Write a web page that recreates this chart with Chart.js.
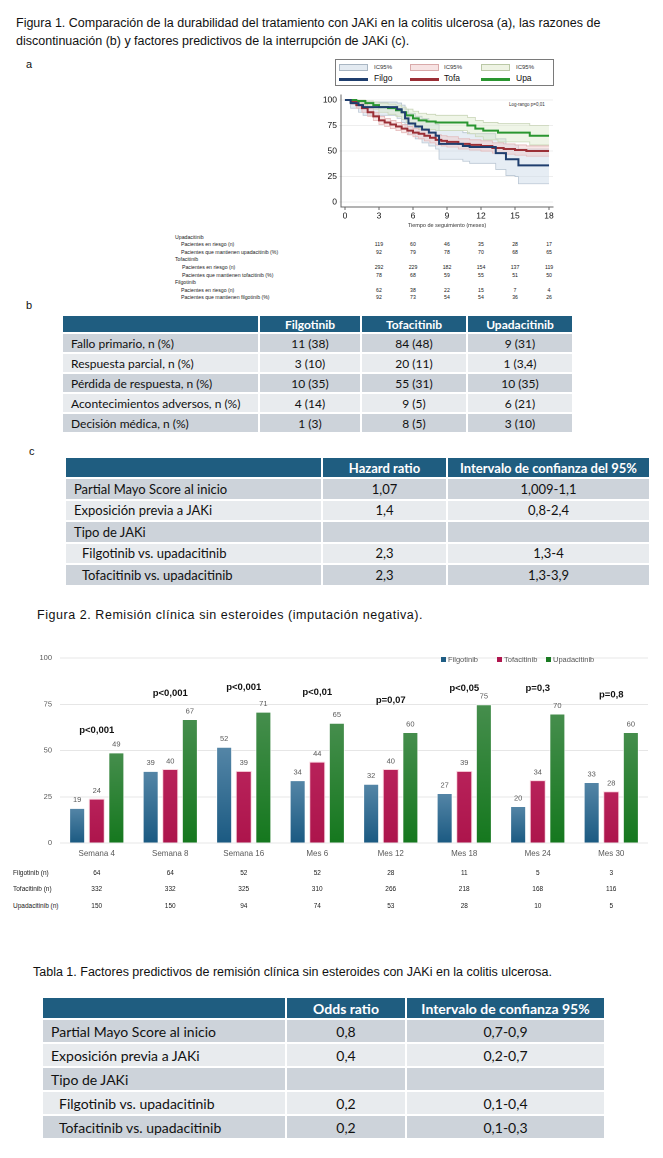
<!DOCTYPE html>
<html><head><meta charset="utf-8">
<script src="https://cdn.jsdelivr.net/npm/chart.js@4.4.1/dist/chart.umd.min.js"></script>
<style>
html,body{margin:0;padding:0;background:#fff;}
body{width:663px;height:1158px;position:relative;overflow:hidden;font-family:"Liberation Sans",Arial,sans-serif;color:#111;}
.abs{position:absolute;white-space:nowrap;}
.cap{font-size:12.5px;line-height:18px;}
.lbl{font-size:11px;}
table.t{position:absolute;border-collapse:separate;border-spacing:0;font-family:Lato,"Open Sans",sans-serif;color:#111;table-layout:fixed;}
table.t td,table.t th{border-right:2px solid #fff;border-bottom:2px solid #fff;padding:0 8px;white-space:nowrap;overflow:hidden;box-sizing:border-box;}
table.t td:last-child,table.t th:last-child{border-right:none;}
table.t th{background:#1f5d80;color:#fff;font-weight:bold;text-align:center;}
table.t td{text-align:center;}
table.t td:first-child{text-align:left;}
table.t td.ind{padding-left:16px;}
tr.d td{background:#cdd3da;}
tr.l td{background:#e8ebee;}
.leg{position:absolute;left:335px;top:59px;width:217px;height:25px;border:1px solid #7a7a7a;background:#fff;}
.sw{position:absolute;width:29px;height:7px;box-sizing:border-box;}
.ln{position:absolute;width:29px;height:2.5px;}
.lt{position:absolute;font-size:6px;color:#333;}
.lt2{position:absolute;font-size:8.5px;color:#111;}
.rk{position:absolute;font-size:5.2px;color:#222;white-space:nowrap;font-family:"Liberation Sans",Arial,sans-serif;}
.nrow{position:absolute;font-size:6.5px;color:#222;white-space:nowrap;}
.bleg{position:absolute;top:655px;font-size:7.5px;color:#595959;white-space:nowrap;}
.bleg i{display:inline-block;width:5px;height:5px;margin-right:2px;vertical-align:0px;}
</style>
</head>
<body>
<div class="abs cap" style="left:16px;top:14px;">Figura 1. Comparación de la durabilidad del tratamiento con JAKi en la colitis ulcerosa (a), las razones de</div>
<div class="abs cap" style="left:16px;top:32px;">discontinuación (b) y factores predictivos de la interrupción de JAKi (c).</div>
<div class="abs lbl" style="left:26px;top:58px;">a</div>
<div class="abs lbl" style="left:26px;top:299px;">b</div>
<div class="abs lbl" style="left:29px;top:445px;">c</div>

<div class="leg">
  <div class="sw" style="left:3px;top:4px;background:#e3eaf1;border:1px solid #a9b6c3;"></div>
  <div class="lt" style="left:38px;top:4px;">IC95%</div>
  <div class="sw" style="left:74px;top:4px;background:#f7e3e3;border:1px solid #d9aaaa;"></div>
  <div class="lt" style="left:108px;top:4px;">IC95%</div>
  <div class="sw" style="left:145px;top:4px;background:#eef3e3;border:1px solid #bac8a6;"></div>
  <div class="lt" style="left:180px;top:4px;">IC95%</div>
  <div class="ln" style="left:3px;top:18px;background:#1f3e6e;"></div>
  <div class="lt2" style="left:38px;top:13px;">Filgo</div>
  <div class="ln" style="left:74px;top:18px;background:#9b2f36;"></div>
  <div class="lt2" style="left:108px;top:13px;">Tofa</div>
  <div class="ln" style="left:145px;top:18px;background:#2a9630;"></div>
  <div class="lt2" style="left:180px;top:13px;">Upa</div>
</div>
<div class="abs" style="left:509px;top:102px;font-size:4.5px;color:#333;">Log-rango p=0,01</div>
<canvas id="km" width="242" height="144" style="position:absolute;left:318px;top:88px;"></canvas>
<div id="risk"></div>

<div id="tabB"></div>
<div id="tabC"></div>

<div class="abs cap" style="left:37px;top:606px;letter-spacing:0.55px;">Figura 2. Remisión clínica sin esteroides (imputación negativa).</div>
<canvas id="bars" width="663" height="225" style="position:absolute;left:0px;top:645px;"></canvas>
<div class="bleg" style="left:441px;"><i style="background:#1f5d84"></i>Filgotinib</div>
<div class="bleg" style="left:497px;"><i style="background:#b0164e"></i>Tofacitinib</div>
<div class="bleg" style="left:546px;"><i style="background:#1a7a22"></i>Upadacitinib</div>
<div id="ntab"></div>

<div class="abs cap" style="left:33px;top:963px;">Tabla 1. Factores predictivos de remisión clínica sin esteroides con JAKi en la colitis ulcerosa.</div>
<div id="tab1"></div>

<script>
// ---------- Figure 1a: Kaplan-Meier data ----------
const kmTicksX = [0, 3, 6, 9, 12, 15, 18];
const kmTicksY = [0, 25, 50, 75, 100];

const filgoT  = [0, 0.5, 1.2, 1.6, 4.6, 5.0, 5.3, 5.6, 6.2, 6.8, 7.4, 8.0, 8.3, 10.4, 11.0, 13.3, 14.2, 15.0, 15.3, 18];
const filgoS  = [100, 97, 95, 93, 91, 88, 82, 77, 74, 71, 68, 65, 57, 55, 54, 48, 42, 42, 36, 36];
const filgoLo = [100, 92, 88, 85, 82, 78, 72, 66, 62, 58, 55, 52, 42, 40, 38, 32, 26, 25, 18, 18];
const filgoHi = [100, 100, 99, 98, 97, 95, 91, 87, 84, 82, 79, 76, 70, 68, 67, 62, 57, 56, 52, 52];

const tofaT  = [0, 0.5, 1, 1.5, 2, 2.5, 3, 3.5, 4, 4.5, 5, 5.5, 6, 6.5, 7, 7.5, 8, 8.5, 9, 10, 11, 12, 13, 14, 15, 16, 17, 18];
const tofaS  = [100, 98, 95, 92, 88, 84, 80, 78, 76, 74, 72, 70, 68, 67, 65, 63, 61, 60, 59, 57, 56, 55, 53, 52, 51, 50, 50, 50];
const tofaLo = [100, 96, 92, 88, 84, 80, 76, 74, 72, 70, 68, 66, 64, 62, 60, 58, 56, 55, 54, 52, 51, 50, 48, 47, 46, 45, 45, 45];
const tofaHi = [100, 100, 98, 96, 92, 88, 84, 82, 80, 78, 76, 74, 72, 71, 70, 68, 66, 65, 64, 62, 61, 60, 58, 57, 56, 55, 55, 55];

const upaT  = [0, 1, 1.8, 2.5, 3, 3.8, 4.5, 5, 5.4, 6, 6.5, 7.2, 8, 10.8, 11.5, 12.2, 13.5, 16.3, 18];
const upaS  = [100, 99, 97, 95, 93, 92, 90, 88, 85, 82, 80, 79, 78, 75, 72, 70, 68, 65, 65];
const upaLo = [100, 97, 94, 91, 88, 86, 84, 81, 78, 75, 72, 71, 70, 67, 64, 61, 59, 56, 56];
const upaHi = [100, 100, 99, 98, 97, 96, 95, 93, 91, 89, 87, 86, 85, 83, 80, 78, 77, 75, 75];

// risk table (months 3..18)
const riskMonths = [3, 6, 9, 12, 15, 18];
const upaRisk = [119, 60, 46, 35, 28, 17];
const upaKeep = [92, 79, 78, 70, 68, 65];
const tofaRisk = [292, 229, 182, 154, 137, 119];
const tofaKeep = [78, 68, 59, 55, 51, 50];
const filgoRisk = [62, 38, 22, 15, 7, 4];
const filgoKeep = [92, 73, 54, 54, 36, 26];

// ---------- Figure 1b ----------
const reasonHeader = ["", "Filgotinib", "Tofacitinib", "Upadacitinib"];
const reasonLabels = ["Fallo primario, n (%)", "Respuesta parcial, n (%)", "Pérdida de respuesta, n (%)", "Acontecimientos adversos, n (%)", "Decisión médica, n (%)"];
const reasonFilgo = ["11 (38)", "3 (10)", "10 (35)", "4 (14)", "1 (3)"];
const reasonTofa  = ["84 (48)", "20 (11)", "55 (31)", "9 (5)", "8 (5)"];
const reasonUpa   = ["9 (31)", "1 (3,4)", "10 (35)", "6 (21)", "3 (10)"];

// ---------- Figure 1c ----------
const hrHeader = ["", "Hazard ratio", "Intervalo de confianza del 95%"];
const factorLabels = ["Partial Mayo Score al inicio", "Exposición previa a JAKi", "Tipo de JAKi", "Filgotinib vs. upadacitinib", "Tofacitinib vs. upadacitinib"];
const hrValues = ["1,07", "1,4", "", "2,3", "2,3"];
const hrCI = ["1,009-1,1", "0,8-2,4", "", "1,3-4", "1,3-3,9"];

// ---------- Figure 2 ----------
const periods = ["Semana 4", "Semana 8", "Semana 16", "Mes 6", "Mes 12", "Mes 18", "Mes 24", "Mes 30"];
const filgoRem = [19, 39, 52, 34, 32, 27, 20, 33];
const tofaRem  = [24, 40, 39, 44, 40, 39, 34, 28];
const upaRem   = [49, 67, 71, 65, 60, 75, 70, 60];
const pValues  = ["p<0,001", "p<0,001", "p<0,001", "p<0,01", "p=0,07", "p<0,05", "p=0,3", "p=0,8"];
const filgoN = [64, 64, 52, 52, 28, 11, 5, 3];
const tofaN  = [332, 332, 325, 310, 266, 218, 168, 116];
const upaN   = [150, 150, 94, 74, 53, 28, 10, 5];
const barTicksY = [0, 25, 50, 75, 100];

// ---------- Tabla 1 ----------
const orHeader = ["", "Odds ratio", "Intervalo de confianza 95%"];
const orValues = ["0,8", "0,4", "", "0,2", "0,2"];
const orCI = ["0,7-0,9", "0,2-0,7", "", "0,1-0,4", "0,1-0,3"];

// ================= tables =================
function makeTable(id, spec) {
  const t = document.createElement('table');
  t.className = 't';
  t.style.left = spec.left + 'px';
  t.style.top = spec.top + 'px';
  t.style.width = spec.widths.reduce((a, b) => a + b, 0) + 'px';
  t.style.fontSize = spec.font + 'px';
  const cg = document.createElement('colgroup');
  spec.widths.forEach(w => { const c = document.createElement('col'); c.style.width = w + 'px'; cg.appendChild(c); });
  t.appendChild(cg);
  const hr = document.createElement('tr');
  hr.style.height = spec.headH + 'px';
  spec.header.forEach(h => { const th = document.createElement('th'); th.textContent = h; th.style.fontSize = spec.hfont + 'px'; hr.appendChild(th); });
  t.appendChild(hr);
  spec.columns[0].forEach((_, r) => {
    const tr = document.createElement('tr');
    tr.className = r % 2 === 0 ? 'd' : 'l';
    tr.style.height = spec.rowH + 'px';
    spec.columns.forEach((col, c) => {
      const td = document.createElement('td');
      td.textContent = col[r];
      if (c === 0 && spec.indent && spec.indent.includes(r)) td.className = 'ind';
      tr.appendChild(td);
    });
    t.appendChild(tr);
  });
  document.getElementById(id).appendChild(t);
}
makeTable('tabB', {left: 63, top: 316, widths: [197, 102, 106, 104], headH: 18, rowH: 20, font: 12, hfont: 12,
  header: reasonHeader, columns: [reasonLabels, reasonFilgo, reasonTofa, reasonUpa]});
makeTable('tabC', {left: 66, top: 458, widths: [257, 125, 201], headH: 21, rowH: 21.5, font: 13, hfont: 13,
  header: hrHeader, columns: [factorLabels, hrValues, hrCI], indent: [3, 4]});
makeTable('tab1', {left: 43, top: 998, widths: [244, 120, 197], headH: 22, rowH: 24, font: 14, hfont: 14,
  header: orHeader, columns: [factorLabels, orValues, orCI], indent: [3, 4]});

// ================= KM chart =================
function pts(t, v) { return t.map((x, i) => ({x: x, y: v[i]})); }
const bandStyle = (col, border) => ({borderColor: border, borderWidth: 0.8, pointRadius: 0, stepped: true, backgroundColor: col});
const km = new Chart(document.getElementById('km'), {
  type: 'line',
  data: {
    datasets: [
      Object.assign({data: pts(filgoT, filgoLo), fill: false, order: 10}, bandStyle('rgba(0,0,0,0)', '#b7c3cf')),
      Object.assign({data: pts(filgoT, filgoHi), fill: '-1', order: 9}, bandStyle('rgba(200,215,230,0.45)', '#b7c3cf')),
      Object.assign({data: pts(tofaT, tofaLo), fill: false, order: 8}, bandStyle('rgba(0,0,0,0)', '#e2b7b7')),
      Object.assign({data: pts(tofaT, tofaHi), fill: '-1', order: 7}, bandStyle('rgba(240,200,200,0.45)', '#e2b7b7')),
      Object.assign({data: pts(upaT, upaLo), fill: false, order: 6}, bandStyle('rgba(0,0,0,0)', '#c9d5b8')),
      Object.assign({data: pts(upaT, upaHi), fill: '-1', order: 5}, bandStyle('rgba(215,230,195,0.4)', '#c9d5b8')),
      {data: pts(upaT, upaS), borderColor: '#2a9630', borderWidth: 2, pointRadius: 0, stepped: true, fill: false, order: 2},
      {data: pts(tofaT, tofaS), borderColor: '#9b2f36', borderWidth: 2, pointRadius: 0, stepped: true, fill: false, order: 1},
      {data: pts(filgoT, filgoS), borderColor: '#1f3e6e', borderWidth: 2, pointRadius: 0, stepped: true, fill: false, order: 0}
    ]
  },
  options: {
    responsive: false, animation: false, devicePixelRatio: 2,
    layout: {padding: {top: 5, right: 7, left: 0, bottom: 0}},
    plugins: {legend: {display: false}, tooltip: {enabled: false}},
    scales: {
      x: {type: 'linear', min: -0.35, max: 18.35,
        afterBuildTicks: s => { s.ticks = kmTicksX.map(v => ({value: v})); },
        afterFit: s => { s.height = 25; },
        grid: {drawOnChartArea: false, drawTicks: true, tickLength: 3, color: '#666'},
        border: {display: true, color: '#666', width: 1},
        ticks: {font: {size: 8.5, family: 'Liberation Sans'}, color: '#111', padding: 1, maxRotation: 0},
        title: {display: true, text: 'Tiempo de seguimiento (meses)', font: {size: 5.5, family: 'Liberation Sans'}, color: '#333', padding: {top: 0, bottom: 3}}
      },
      y: {type: 'linear', min: -4.8, max: 104.8,
        afterBuildTicks: s => { s.ticks = kmTicksY.map(v => ({value: v})); },
        afterFit: s => { s.width = 23; },
        grid: {drawOnChartArea: true, drawTicks: true, tickLength: 2, color: '#eeeeee'},
        border: {display: true, color: '#666', width: 1},
        ticks: {font: {size: 8.5, family: 'Liberation Sans'}, color: '#111', padding: 2}
      }
    }
  }
});

// risk table positioned from the KM x-scale
(function () {
  const box = document.getElementById('risk');
  const left0 = 318;
  const rowsY = [237, 244, 252, 259, 267, 275, 282, 290, 297];
  const labels = [
    ['Upadacitinib', 175, null],
    ['Pacientes en riesgo (n)', 181, upaRisk],
    ['Pacientes que mantienen upadacitinib (%)', 181, upaKeep],
    ['Tofacitinib', 175, null],
    ['Pacientes en riesgo (n)', 182, tofaRisk],
    ['Pacientes que mantienen tofacitinib (%)', 182, tofaKeep],
    ['Filgotinib', 175, null],
    ['Pacientes en riesgo (n)', 181, filgoRisk],
    ['Pacientes que mantienen filgotinib (%)', 181, filgoKeep]
  ];
  labels.forEach((l, i) => {
    const d = document.createElement('div');
    d.className = 'rk'; d.textContent = l[0];
    d.style.left = l[1] + 'px'; d.style.top = (rowsY[i] - 3) + 'px';
    box.appendChild(d);
    if (l[2]) {
      l[2].forEach((v, j) => {
        const n = document.createElement('div');
        n.className = 'rk'; n.textContent = v;
        const x = left0 + km.scales.x.getPixelForValue(riskMonths[j]);
        n.style.left = (x - 10) + 'px'; n.style.width = '20px'; n.style.textAlign = 'center';
        n.style.top = (rowsY[i] - 3) + 'px';
        box.appendChild(n);
      });
    }
  });
})();

// ================= Bar chart =================
function grad(top, bottom) {
  return (ctx) => {
    const chart = ctx.chart;
    if (!chart.chartArea || ctx.type !== 'data' || !chart.scales.y) return bottom;
    const ys = chart.scales.y;
    const y0 = ys.getPixelForValue(ctx.raw), y1 = ys.getPixelForValue(0);
    if (!isFinite(y0) || !isFinite(y1) || y0 === y1) return bottom;
    const g = chart.ctx.createLinearGradient(0, y0, 0, y1);
    g.addColorStop(0, top); g.addColorStop(1, bottom);
    return g;
  };
}
const valueLabels = {
  id: 'valueLabels',
  afterDatasetsDraw(chart) {
    const c = chart.ctx;
    c.save();
    c.font = '7.5px "Liberation Sans", Arial, sans-serif';
    c.fillStyle = '#595959'; c.textAlign = 'center'; c.textBaseline = 'bottom';
    chart.data.datasets.forEach((ds, di) => {
      chart.getDatasetMeta(di).data.forEach((bar, i) => { c.fillText(ds.data[i], bar.x, bar.y - 4); });
    });
    c.restore();
  }
};
const pLabels = {
  id: 'pLabels',
  afterDatasetsDraw(chart, args, opts) {
    const c = chart.ctx;
    c.save();
    c.font = 'bold 9.5px "Liberation Sans", Arial, sans-serif';
    c.fillStyle = '#111'; c.textAlign = 'center'; c.textBaseline = 'middle';
    opts.texts.forEach((t, i) => {
      c.fillText(t, chart.scales.x.getPixelForValue(i), chart.scales.y.getPixelForValue(opts.levels[i]));
    });
    c.restore();
  }
};
const bars = new Chart(document.getElementById('bars'), {
  type: 'bar',
  data: {
    labels: periods,
    datasets: [
      {label: 'Filgotinib', data: filgoRem, backgroundColor: grad('#5586a7', '#1b5a82'), borderColor: 'rgba(255,255,255,0.7)', borderWidth: 1},
      {label: 'Tofacitinib', data: tofaRem, backgroundColor: grad('#b8225a', '#ad154c'), borderColor: 'rgba(250,210,220,0.9)', borderWidth: 1},
      {label: 'Upadacitinib', data: upaRem, backgroundColor: grad('#468e4d', '#15781e'), borderColor: 'rgba(255,255,255,0.7)', borderWidth: 1}
    ]
  },
  plugins: [valueLabels, pLabels],
  options: {
    responsive: false, animation: false, devicePixelRatio: 2,
    layout: {padding: {top: 13, right: 15, left: 0, bottom: 0}},
    datasets: {bar: {categoryPercentage: 0.8, barPercentage: 0.82}},
    plugins: {
      legend: {display: false}, tooltip: {enabled: false},
      pLabels: {texts: pValues, levels: [61, 81, 84, 81.5, 77, 83.5, 83.5, 80]}
    },
    scales: {
      x: {
        afterFit: s => { s.height = 27; },
        grid: {display: false, drawTicks: false}, border: {display: false},
        ticks: {font: {size: 8, family: 'Liberation Sans'}, color: '#595959', padding: 6, maxRotation: 0}
      },
      y: {min: 0, max: 100,
        afterBuildTicks: s => { s.ticks = barTicksY.map(v => ({value: v})); },
        afterFit: s => { s.width = 60; },
        grid: {color: '#e6e6e6', drawTicks: false}, border: {display: false},
        ticks: {font: {size: 7.5, family: 'Liberation Sans'}, color: '#595959', padding: 8}
      }
    }
  }
});

// n table under the bar chart, aligned with the category scale
(function () {
  const box = document.getElementById('ntab');
  const rows = [['Filgotinib (n)', filgoN, 873], ['Tofacitinib (n)', tofaN, 889], ['Upadacitinib (n)', upaN, 906]];
  rows.forEach(r => {
    const l = document.createElement('div');
    l.className = 'nrow'; l.textContent = r[0];
    l.style.left = '13px'; l.style.top = (r[2] - 4) + 'px';
    box.appendChild(l);
    r[1].forEach((v, i) => {
      const d = document.createElement('div');
      d.className = 'nrow'; d.textContent = v;
      const x = bars.scales.x.getPixelForValue(i);
      d.style.left = (x - 15) + 'px'; d.style.width = '30px'; d.style.textAlign = 'center';
      d.style.top = (r[2] - 4) + 'px';
      box.appendChild(d);
    });
  });
})();
</script>
</body></html>
